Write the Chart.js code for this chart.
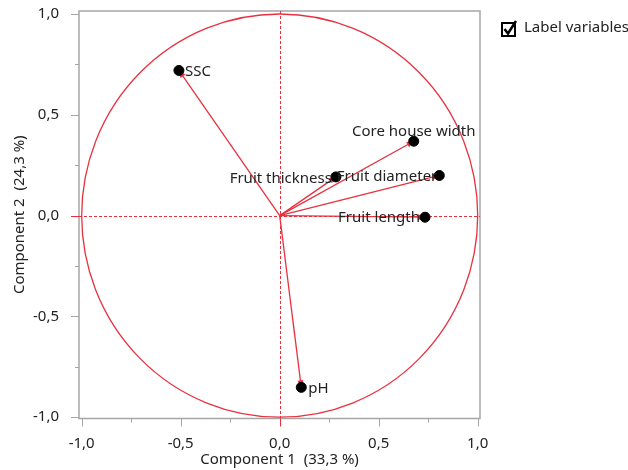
<!DOCTYPE html>
<html>
<head>
<meta charset="utf-8">
<script src="https://cdn.jsdelivr.net/npm/chart.js@4.4.1/dist/chart.umd.min.js"></script>
<style>
  html, body { margin: 0; padding: 0; background: #fff; }
  #wrap { width: 628px; height: 470px; position: relative; }
</style>
</head>
<body>
<div id="wrap"><canvas id="loadingPlot" width="628" height="470"></canvas></div>
<script>
// loading plot data (component 1 / component 2)
const variableNames = ['SSC', 'Core house width', 'Fruit diameter', 'Fruit thickness', 'Fruit length', 'pH'];
const component1 = [-0.509, 0.677, 0.806, 0.284, 0.734, 0.109];
const component2 = [0.72, 0.369, 0.199, 0.192, -0.008, -0.852];
const axisTicks = [-1, -0.5, 0, 0.5, 1];
const minorTicks = [-0.75, -0.25, 0.25, 0.75];
const xTitle = 'Component 1  (33,3 %)';
const yTitle = 'Component 2  (24,3 %)';
const legendText = 'Label variables';

const FONT = '"Noto Sans", "Open Sans", sans-serif';
const RED = '#e8313f';
const AXIS = '#a6a6a6';
const TEXT = '#222';

// where each variable label sits relative to its point
const labelPlace = {
    'SSC': { align: 'left', dx: 6, dy: 1 },
    'Core house width': { align: 'center', dx: 0, dy: -9 },
    'Fruit diameter': { align: 'right', dx: -2, dy: 1 },
    'Fruit thickness': { align: 'right', dx: -4, dy: 2 },
    'Fruit length': { align: 'right', dx: -5, dy: 1 },
    'pH': { align: 'left', dx: 7, dy: 1 }
};

const fmt = v => v.toFixed(1).replace('.', ',');
const snap = v => Math.round(v) + 0.5;

const arrowSets = variableNames.map((name, i) => ({
    type: 'line',
    label: name,
    data: [{ x: 0, y: 0 }, { x: component1[i], y: component2[i] }],
    borderColor: RED,
    borderWidth: 1.3,
    pointRadius: 0,
    fill: false,
    order: 2
}));

const pointSet = {
    type: 'scatter',
    label: 'variables',
    data: variableNames.map((n, i) => ({ x: component1[i], y: component2[i] })),
    backgroundColor: '#000',
    borderColor: '#000',
    pointRadius: 5,
    order: 1
};

const plotDecor = {
    id: 'plotDecor',
    beforeDatasetsDraw(chart) {
        const { ctx, chartArea: a, scales: { x, y } } = chart;
        const x0 = x.getPixelForValue(0), y0 = y.getPixelForValue(0);
        ctx.save();
        // frame
        ctx.strokeStyle = AXIS;
        ctx.lineWidth = 1.5;
        ctx.strokeRect(a.left, a.top, a.right - a.left, a.bottom - a.top);
        // minor / major ticks
        ctx.lineWidth = 1;
        axisTicks.forEach(v => {
            const px = snap(x.getPixelForValue(v)), py = snap(y.getPixelForValue(v));
            ctx.strokeStyle = v === 0 ? RED : AXIS;
            ctx.beginPath(); ctx.moveTo(px, a.bottom); ctx.lineTo(px, a.bottom + 8); ctx.stroke();
            ctx.beginPath(); ctx.moveTo(a.left, py); ctx.lineTo(a.left - 8, py); ctx.stroke();
        });
        ctx.strokeStyle = AXIS;
        minorTicks.forEach(v => {
            const px = snap(x.getPixelForValue(v)), py = snap(y.getPixelForValue(v));
            ctx.beginPath(); ctx.moveTo(px, a.bottom); ctx.lineTo(px, a.bottom + 4); ctx.stroke();
            ctx.beginPath(); ctx.moveTo(a.left, py); ctx.lineTo(a.left - 4, py); ctx.stroke();
        });
        // dashed zero lines
        ctx.strokeStyle = RED;
        ctx.setLineDash([3, 2]);
        ctx.beginPath(); ctx.moveTo(snap(x0), a.top); ctx.lineTo(snap(x0), a.bottom); ctx.stroke();
        ctx.beginPath(); ctx.moveTo(a.left, snap(y0)); ctx.lineTo(a.right, snap(y0)); ctx.stroke();
        ctx.setLineDash([]);
        // unit circle
        const rx = x.getPixelForValue(1) - x0;
        const ry = y0 - y.getPixelForValue(1);
        ctx.lineWidth = 1.3;
        ctx.beginPath(); ctx.ellipse(x0, y0, rx, ry, 0, 0, Math.PI * 2); ctx.stroke();
        // arrow heads
        ctx.fillStyle = RED;
        variableNames.forEach((n, i) => {
            const px = x.getPixelForValue(component1[i]), py = y.getPixelForValue(component2[i]);
            const ang = Math.atan2(py - y0, px - x0);
            const len = 7, w = 3;
            ctx.beginPath();
            ctx.moveTo(px, py);
            ctx.lineTo(px - len * Math.cos(ang) + w * Math.sin(ang), py - len * Math.sin(ang) - w * Math.cos(ang));
            ctx.lineTo(px - len * Math.cos(ang) - w * Math.sin(ang), py - len * Math.sin(ang) + w * Math.cos(ang));
            ctx.closePath();
            ctx.fill();
        });
        ctx.restore();
    },
    afterDatasetsDraw(chart) {
        const { ctx, scales: { x, y } } = chart;
        ctx.save();
        ctx.font = '15px ' + FONT;
        ctx.fillStyle = TEXT;
        ctx.textBaseline = 'middle';
        variableNames.forEach((n, i) => {
            const p = labelPlace[n];
            ctx.textAlign = p.align;
            ctx.fillText(n, x.getPixelForValue(component1[i]) + p.dx, y.getPixelForValue(component2[i]) + p.dy);
        });
        // legend checkbox
        ctx.strokeStyle = '#000';
        ctx.lineWidth = 2;
        ctx.strokeRect(502, 23, 13, 13);
        ctx.lineWidth = 2.5;
        ctx.beginPath(); ctx.moveTo(504.5, 29); ctx.lineTo(508, 33.5); ctx.lineTo(516, 21); ctx.stroke();
        ctx.textAlign = 'left';
        ctx.fillStyle = TEXT;
        ctx.fillText(legendText, 524, 28);
        ctx.restore();
    }
};

new Chart(document.getElementById('loadingPlot'), {
    data: { datasets: [...arrowSets, pointSet] },
    options: {
        responsive: false,
        animation: false,
        layout: { padding: { top: 11, right: 148, left: 0, bottom: 0 } },
        plugins: { legend: { display: false }, tooltip: { enabled: false } },
        scales: {
            x: {
                type: 'linear',
                min: -1.0136,
                max: 1.0116,
                grid: { display: false },
                border: { display: false },
                afterBuildTicks: s => { s.ticks = axisTicks.map(v => ({ value: v })); },
                afterFit: s => { s.height = 51.5; s.paddingLeft = 0; s.paddingRight = 0; },
                ticks: { callback: v => fmt(v), color: TEXT, font: { family: FONT, size: 15 }, padding: 8, maxRotation: 0 },
                title: { display: true, text: xTitle, color: TEXT, font: { family: FONT, size: 15 }, padding: { top: 0, bottom: 1 } }
            },
            y: {
                type: 'linear',
                min: -1.0065,
                max: 1.015,
                grid: { display: false },
                border: { display: false },
                afterBuildTicks: s => { s.ticks = axisTicks.map(v => ({ value: v })); },
                afterFit: s => { s.width = 79; s.paddingTop = 0; s.paddingBottom = 0; },
                ticks: { callback: v => fmt(v), color: TEXT, font: { family: FONT, size: 15 }, padding: 12 },
                title: { display: true, text: yTitle, color: TEXT, font: { family: FONT, size: 15 }, padding: { top: 11, bottom: 0 } }
            }
        }
    },
    plugins: [plotDecor]
});
</script>
</body>
</html>
